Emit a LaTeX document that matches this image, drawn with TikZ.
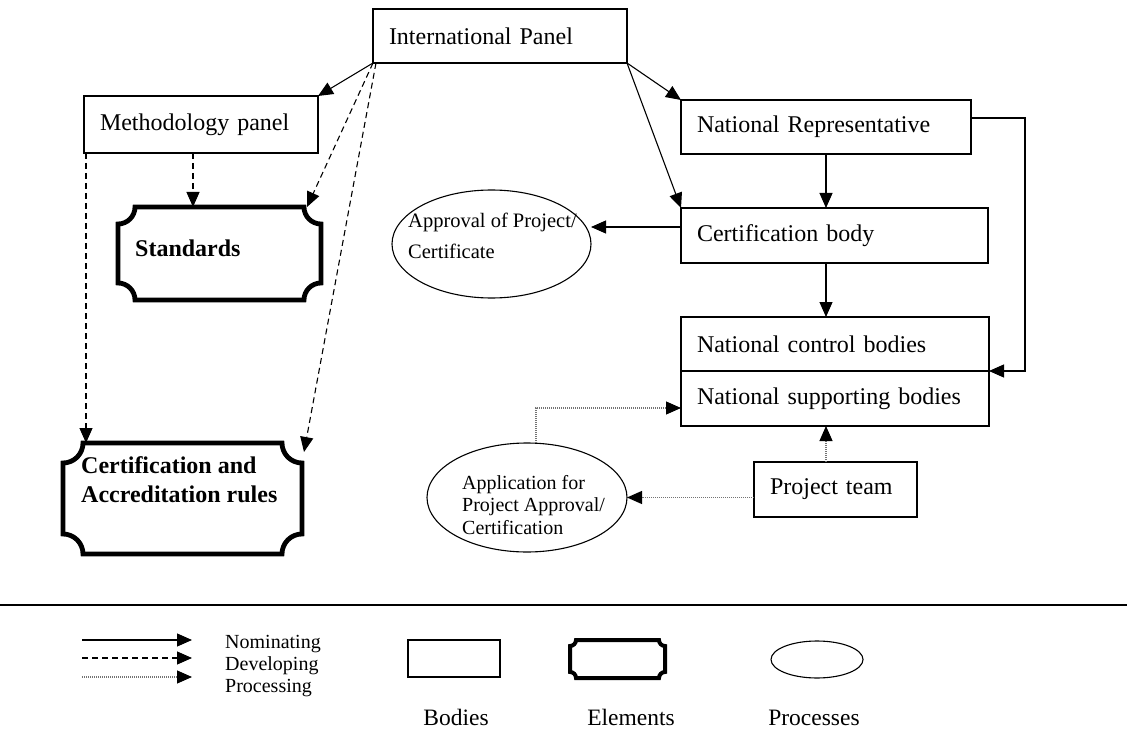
\documentclass[tikz,border=0pt]{standalone}
\usepackage{fontspec}
\setmainfont{Liberation Serif}
\usetikzlibrary{arrows.meta,shapes.geometric,calc}

% Plaque outline (rectangle with concave quarter-circle corners) around a node
% #1 node name, #2 corner radius, #3 line width
\newcommand\plaque[3]{%
  \draw[line width=#3]
    ($(#1.north west)+(#2,0)$) -- ($(#1.north east)+(-#2,0)$)
    arc[start angle=180,end angle=270,radius=#2]
    -- ($(#1.south east)+(0,#2)$)
    arc[start angle=90,end angle=180,radius=#2]
    -- ($(#1.south west)+(#2,0)$)
    arc[start angle=0,end angle=90,radius=#2]
    -- ($(#1.north west)+(0,-#2)$)
    arc[start angle=270,end angle=360,radius=#2]
    -- cycle;}

\begin{document}
\begin{tikzpicture}[x=1pt,y=1pt,
  tip/.style={-{Triangle[length=15pt,width=13pt,color=black]}},
  nominating/.style={tip, line width=1.1pt},
  developing/.style={tip, line width=1.1pt, dash pattern=on 6pt off 4pt},
  processing/.style={tip, line width=1.1pt, black!55, dash pattern=on 1pt off 1pt},
  bodybox/.style={draw, line width=1.4pt, anchor=north west, inner xsep=16pt,
    inner ysep=0pt, outer sep=0pt, align=left, font=\fontsize{24}{28}\selectfont},
  elemspace/.style={anchor=north west, inner sep=0pt, outer sep=0pt},
  elemtext/.style={anchor=north west, inner sep=0pt, align=left,
    font=\fontsize{24}{29}\selectfont\bfseries},
  processshape/.style={draw, ellipse, line width=1.1pt, inner sep=0pt, outer sep=0pt},
  processtext/.style={anchor=north west, inner sep=0pt, align=left},
  legendtext/.style={inner sep=0pt, font=\fontsize{23.5}{27}\selectfont},
]
\useasboundingbox (0,0) rectangle (1127,-730);

% ---- bodies ----
\node[bodybox, text width=222pt, minimum height=54pt] (ip) at (373,-9) {International Panel};
\node[bodybox, text width=202pt, minimum height=57pt] (meth) at (84,-96) {Methodology panel};
\node[bodybox, text width=258pt, minimum height=54pt] (nr) at (681,-100) {National Representative};
\node[bodybox, text width=275pt, minimum height=55pt] (cb) at (681,-208) {Certification body};
\node[bodybox, text width=276pt, minimum height=54pt] (ncb) at (681,-317) {National control bodies};
\node[bodybox, text width=276pt, minimum height=55pt] (nsb) at (681,-371) {National supporting bodies};
\node[bodybox, text width=131pt, minimum height=55pt] (pt) at (754,-462) {Project team};

% ---- elements ----
\node[elemspace, minimum width=203pt, minimum height=93pt] (std) at (118,-207) {};
\plaque{std}{17}{4.8pt}
\node[elemtext] (stdtxt) at (135,-240) {Standards};
\node[elemspace, minimum width=239pt, minimum height=111pt] (cr) at (63,-443) {};
\plaque{cr}{20}{4.8pt}
\node[elemtext] (crtxt) at (81,-456) {Certification and\\Accreditation rules};

% ---- processes ----
\node[processshape, minimum width=199pt, minimum height=108pt] (appr) at (491.5,-244) {};
\node[processtext, font=\fontsize{20.5}{31}\selectfont] (apprtxt) at (408,-213)
  {Approval of Project/\\Certificate};
\node[processshape, minimum width=200pt, minimum height=109pt] (appl) at (527,-497.5) {};
\node[processtext, font=\fontsize{20}{22.5}\selectfont] (appltxt) at (462,-475)
  {Application for\\Project Approval/\\Certification};

% ---- nominating ----
\draw[nominating] (ip.south west) -- (meth.north east);
\draw[nominating] (ip.south east) -- (nr.north west);
\draw[nominating] (ip.south east) -- (cb.north west);
\draw[nominating] ([xshift=145pt]nr.south west) -- ([xshift=145pt]cb.north west);
\draw[nominating] ([xshift=145pt]cb.south west) -- ([xshift=145pt]ncb.north west);
\draw[nominating] ([yshift=9pt]nr.east) -| ($(nsb.north east)+(36,0)$) -- (nsb.north east);
\draw[nominating] ([yshift=8.5pt]cb.west) -- ([yshift=8.5pt]cb.west -| appr.east);

% ---- developing ----
\draw[developing] (ip.south west) -- ($(std.north east)+(-14,0)$);
\draw[developing] ([xshift=3pt]ip.south west) -- ($(cr.north east)+(2,-9)$);
\draw[developing] ([xshift=75pt]std.north west |- meth.south) -- ([xshift=75pt]std.north west);
\draw[developing] ([xshift=2pt]meth.south west) -- ([xshift=2pt]meth.south west |- cr.north);

% ---- processing ----
\draw[processing] ([xshift=72pt]pt.north west) -- ([xshift=145pt]nsb.south west);
\draw[processing] (pt.west |- appl.east) -- (appl.east);
\draw[processing] ([xshift=9pt]appl.north) |- ([yshift=-9.5pt]nsb.west);

% ---- legend ----
\draw[line width=1.5pt] (0,-605) -- (1127,-605);
\coordinate (la1) at (82,-640);  \coordinate (lb1) at (192,-640);
\coordinate (la2) at (82,-658);  \coordinate (lb2) at (192,-658);
\coordinate (la3) at (82,-677);  \coordinate (lb3) at (192,-677);
\draw[nominating] (la1) -- (lb1);
\draw[developing] (la2) -- (lb2);
\draw[processing] (la3) -- (lb3);
\node[inner sep=0pt, anchor=base west, font=\fontsize{20}{22}\selectfont] (lnom) at (225,-648) {Nominating};
\node[inner sep=0pt, anchor=base west, font=\fontsize{20}{22}\selectfont] (ldev) at (225,-670) {Developing};
\node[inner sep=0pt, anchor=base west, font=\fontsize{20}{22}\selectfont] (lproc) at (225,-692) {Processing};

\node[draw, line width=1.4pt, anchor=north west, inner sep=0pt, outer sep=0pt,
  minimum width=92pt, minimum height=37pt] (lgbody) at (408,-640) {};
\node[elemspace, minimum width=95pt, minimum height=38pt] (lgelem) at (570,-640) {};
\plaque{lgelem}{6}{4pt}
\node[processshape, minimum width=92pt, minimum height=37pt] (lgproc) at (817,-659.5) {};

\node[legendtext, anchor=base] (lbodies) at (456,-725) {Bodies};
\node[legendtext, anchor=base] (lelems) at (631,-725) {Elements};
\node[legendtext, anchor=base] (lprocs) at (814,-725) {Processes};
\end{tikzpicture}
\end{document}
